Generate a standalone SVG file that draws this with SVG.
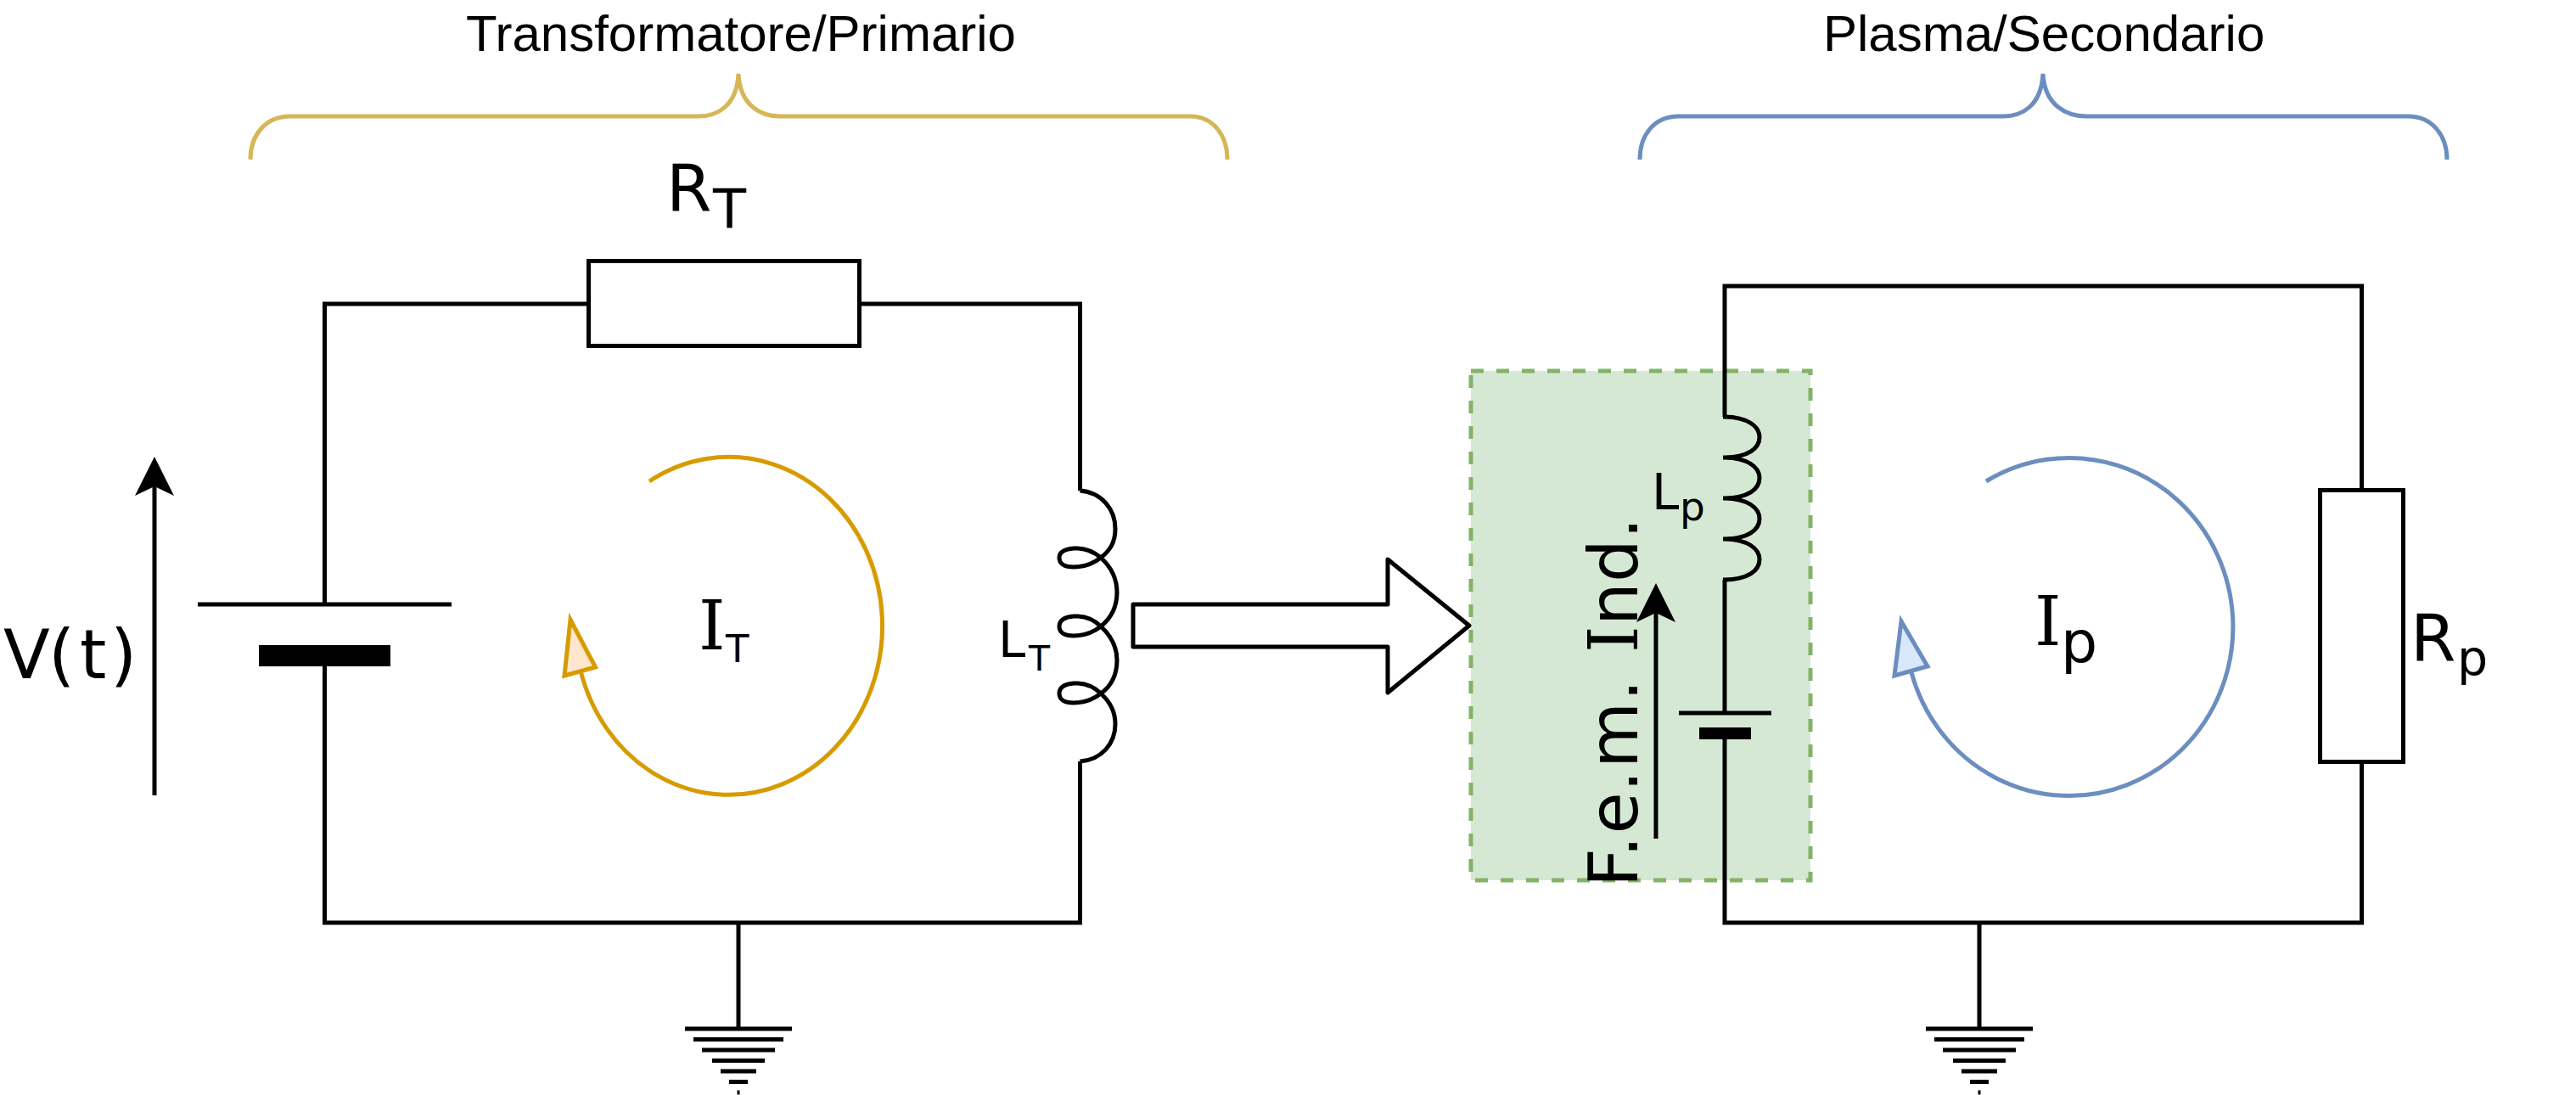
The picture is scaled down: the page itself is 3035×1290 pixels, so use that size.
<svg xmlns="http://www.w3.org/2000/svg" xmlns:xlink="http://www.w3.org/1999/xlink" width="3035" height="1290" viewBox="0 0 3035 1290">
<style>
.w{fill:none;stroke:#000;stroke-width:5}
.box{fill:#fff;stroke:#000;stroke-width:5}
.plate{fill:#000;stroke:none}
.t{font-family:"DejaVu Sans",Verdana,sans-serif;fill:#000}
.title{font-family:"Liberation Sans",Arial,sans-serif;font-size:60px;fill:#000}
.sf{font-family:"DejaVu Serif",serif}
.gold{fill:none;stroke:#d6b656;stroke-width:5}
.blue{fill:none;stroke:#6c8ebf;stroke-width:5}
.cg{fill:none;stroke:#d79b00;stroke-width:5}
.cb{fill:none;stroke:#6c8ebf;stroke-width:5}
</style>
<defs>
<marker id="ah" markerUnits="userSpaceOnUse" viewBox="-11 -24 48 48" refX="0" refY="0" markerWidth="48" markerHeight="48" orient="auto">
<path d="M35 0L-11 -23L0 0L-11 23Z" fill="#000"/>
</marker>
<g id="gnd-sym">
<rect x="-63" y="-2.5" width="126" height="5"/>
<rect x="-53" y="10" width="106" height="5"/>
<rect x="-43" y="22.5" width="86" height="5"/>
<rect x="-31" y="35" width="62" height="5"/>
<rect x="-21" y="47.5" width="42" height="5"/>
<rect x="-11" y="60" width="22" height="5"/>
<rect x="-1.5" y="72.5" width="3" height="5"/>
</g>
</defs>
<rect width="3035" height="1290" fill="#fff"/>
<g id="induced-region"><rect x="1733" y="437" width="400" height="600" fill="#d5e8d4" stroke="#82b366" stroke-width="5" stroke-dasharray="15 15"/></g>
<g id="connectors">
<path class="w" d="M382.5 712V358H693M1012 358H1272.5V578M1272.5 897V1087H382.5V785"/>
<path class="w" d="M870 1087V1212"/>
<path class="w" d="M2032 491V337H2782.5V578M2782.5 897V1087H2032V871M2032 840V683"/>
<path class="w" d="M2332 1087V1212"/>
<path class="w" d="M182 937V573" marker-end="url(#ah)"/>
<path class="w" d="M1951 988V722" marker-end="url(#ah)"/>
<path class="cg" d="M765 567A181 199 0 1 1 684 790"/>
<path class="cb" d="M2340 567A193 199 0 1 1 2252 792"/>
</g>
<g id="resistor-rt"><rect class="box" x="693.5" y="307.5" width="319" height="100"/></g>
<g id="resistor-rp"><rect class="box" x="2733.5" y="577.5" width="98" height="320"/></g>
<g id="battery-v"><rect class="plate" x="233" y="709.5" width="299" height="5"/><rect class="plate" x="305" y="760" width="155" height="25"/></g>
<g id="battery-fem"><rect class="plate" x="1978" y="837.5" width="109" height="5"/><rect class="plate" x="2002" y="857" width="61" height="14"/></g>
<g id="inductor-lt"><path class="w" d="M1272.5 578C1298 580 1314 600 1314 623C1314 640 1307 649 1297 657C1288 664 1277 668 1265 668C1254 668 1248 664 1248 657C1248 650 1254 647 1265 646C1280 645 1290 651 1297 657C1308 667 1316 680 1316 698C1316 716 1308 729 1297 738C1288 745 1277 749 1265 749C1254 749 1248 745 1248 738C1248 731 1254 727 1265 726C1280 725 1290 731 1297 738C1308 748 1316 760 1316 778C1316 796 1308 809 1297 817C1288 824 1277 828 1265 828C1254 828 1248 824 1248 817C1248 810 1254 806 1265 805C1280 804 1290 810 1297 817C1307 826 1314 838 1314 853C1314 876 1298 895 1272.5 897"/></g>
<g id="inductor-lp"><path class="w" d="M2030 491C2060 491 2073 503 2073 515C2073 528 2060 539 2030 539C2060 539 2073 551 2073 563C2073 576 2060 587 2030 587C2060 587 2073 599 2073 611C2073 624 2060 635 2030 635C2060 635 2073 647 2073 659C2073 672 2060 683 2030 683"/></g>
<g id="transfer-arrow"><path class="box" stroke-linejoin="round" d="M1335 712H1635V659L1731 737L1635 816V762H1335Z"/></g>
<g id="current-it"><path d="M672 730L665 796L701.5 786Z" fill="#ffe6cc" stroke="#d79b00" stroke-width="5"/><text class="t" font-size="80" y="765"><tspan class="sf" x="823">I</tspan></text><text class="t" font-size="45" x="855" y="780">T</text></g>
<g id="current-ip"><path d="M2240 732L2232 796L2271 785Z" fill="#dae8fc" stroke="#6c8ebf" stroke-width="5"/><text class="t" font-size="80" y="760"><tspan class="sf" x="2397">I</tspan></text><text class="t" font-size="68" x="2428" y="780">p</text></g>
<g id="ground-1"><use xlink:href="#gnd-sym" href="#gnd-sym" x="870" y="1212"/></g>
<g id="ground-2"><use xlink:href="#gnd-sym" href="#gnd-sym" x="2332" y="1212"/></g>
<g id="brace-primary"><path class="gold" d="M295 188C295 160 312 137 342 137H823C845 137 868 125 870 87C872 125 897 137 919 137H1402C1430 137 1446 160 1446 188"/></g>
<g id="brace-secondary"><path class="blue" d="M1932 188C1932 160 1948 137 1978 137H2360C2382 137 2405 125 2407 87C2409 125 2436 137 2458 137H2837C2866 137 2883 160 2883 188"/></g>
<g id="labels">
<text class="title" x="549" y="60">Transformatore/Primario</text>
<text class="title" x="2148" y="60">Plasma/Secondario</text>
<text class="t" font-size="77" x="785" y="249">R</text><text class="t" font-size="64" x="840" y="269">T</text>
<text class="t" font-size="80" x="4 57 94 130" y="799">V(t)</text>
<text class="t" font-size="58" x="1176" y="774">L</text><text class="t" font-size="41" x="1212" y="790">T</text>
<text class="t" font-size="58" x="1946" y="600">L</text><text class="t" font-size="47" x="1979" y="613">p</text>
<text class="t" font-size="77" x="2840" y="779">R</text><text class="t" font-size="57" x="2895" y="795">p</text>
<text class="t" font-size="80" transform="translate(1929 1045) rotate(-90)" x="0 35 62.6 112 140 219 250 276 308 359 410">F.e.m. <tspan class="sf">I</tspan>nd.</text>
</g>
</svg>
